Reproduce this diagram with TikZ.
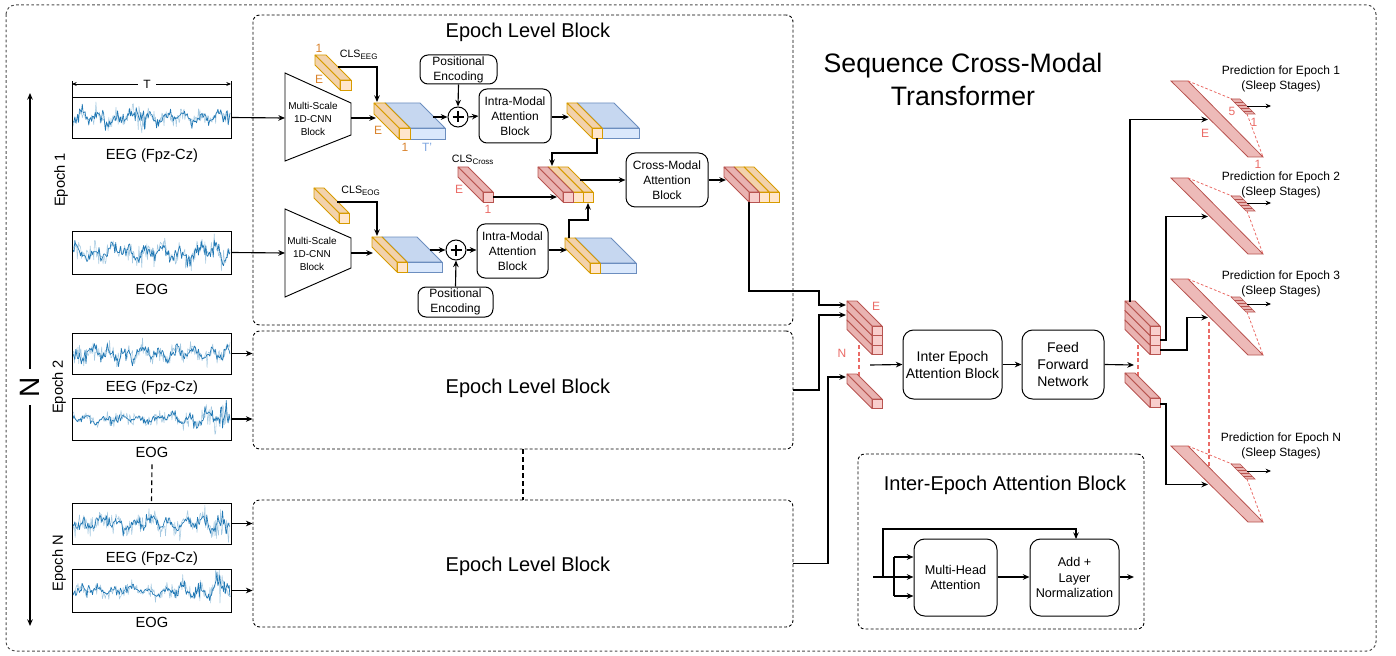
\documentclass[tikz,border=0pt]{standalone}
\usepackage{fontspec}
\setmainfont{Liberation Sans}
\usetikzlibrary{arrows.meta,fit}
\definecolor{orF}{HTML}{FFE6CC}
\definecolor{orT}{HTML}{F2D2AC}
\definecolor{orS}{HTML}{D79B00}
\definecolor{blF}{HTML}{DAE8FC}
\definecolor{blT}{HTML}{C6D7F0}
\definecolor{blS}{HTML}{6C8EBF}
\definecolor{rdF}{HTML}{F8CECC}
\definecolor{rdT}{HTML}{E9B3B1}
\definecolor{rdS}{HTML}{B85450}
\definecolor{orTxt}{HTML}{D9822B}
\definecolor{rdTxt}{HTML}{EA6B66}
\definecolor{blTxt}{HTML}{7EA6E0}
\definecolor{sigC}{HTML}{1F77B4}
% 3D bar: front x, front y, width, height, front fill, side fill, stroke
\newcommand{\tbar}[7]{%
  \filldraw[fill=#6,draw=#7,line width=0.6pt,line join=round] (#1,#2) -- ++(-25,-25) -- ++(#3,0) -- ++(25,25) -- cycle;
  \filldraw[fill=#6,draw=#7,line width=0.6pt,line join=round] (#1,#2) -- ++(-25,-25) -- ++(0,#4) -- ++(25,25) -- cycle;
  \filldraw[fill=#5,draw=#7,line width=0.6pt] (#1,#2) rectangle ++(#3,#4);
}
% signal box: name, top, bottom, seed, amplitude, growth
\newcommand{\sigb}[6]{%
  \begin{scope}
    \clip (72,#2) rectangle (231,#3);
    \pgfmathsetseed{#4}
    \draw[sigC!40,line width=0.4pt,line join=round] plot[domain=1:158,samples=220,variable=\t] ({72+\t},{(#2+#3)/2 + #5*(0.8*rand*rnd + 0.25*sin(\t*21+#4*7) + 0.15*sin(\t*8+#4*13))*(1+#6*(\t/158)^4)});
    \pgfmathsetseed{#4+1}
    \draw[sigC,line width=0.5pt,line join=round] plot[domain=1:158,samples=170,variable=\t] ({72+\t},{(#2+#3)/2 + #5*(0.75*rand*rnd*(0.4+0.6*rnd) + 0.22*sin(\t*21+#4*7) + 0.15*sin(\t*8+#4*13))*(1+#6*(\t/158)^4)});
  \end{scope}
  \node[draw,line width=0.6pt,inner sep=0pt,fit={(72,#2)(231,#3)}] (#1) {};
}
% prediction bar
\newcommand{\pbar}[2]{%
  \filldraw[fill=rdT!75!rdF,draw=rdS,line width=0.6pt] (1171,#1) -- (1188,#1) -- (1263,{#1+76}) -- (1248,{#1+76}) -- cycle;
  \draw[rdTxt,line width=0.6pt,dash pattern=on 2pt off 1.5pt] (1188,#1) -- (1232,{#1+18});
  \draw[rdTxt,line width=0.6pt,dash pattern=on 2pt off 1.5pt] (1247,{#1+33}) -- (1263,{#1+76});
  \filldraw[fill=rdT,draw=rdS,line width=0.5pt] (1231,{#1+18}) -- (1240,{#1+18}) -- (1255,{#1+33}) -- (1246,{#1+33}) -- cycle;
  \foreach \k in {1,2,3,4}{\draw[rdS,line width=0.5pt] ({1231+3*\k},{#1+18+3*\k}) -- ({1240+3*\k},{#1+18+3*\k});}
  \coordinate (#2in) at (1208,{#1+38.5});
  \coordinate (#2out) at (1247,{#1+25});
  \coordinate (#2end) at (1271,{#1+25});
}
\begin{document}
\begin{tikzpicture}[x=0.75pt,y=-0.75pt,
  arr/.style={-{Stealth[length=5pt,width=4.2pt]},line width=0.85pt},
  sarr/.style={-{Stealth[length=4pt,width=3.4pt]},line width=0.7pt},
  rbox/.style={draw,line width=0.75pt,rounded corners=6pt,inner sep=0pt,align=center},
  dblock/.style={draw,line width=0.7pt,dash pattern=on 2.2pt off 1.6pt,rounded corners=5pt,inner sep=0pt},
  outerb/.style={draw=black!70,line width=0.75pt,dash pattern=on 2pt off 1.8pt,rounded corners=7pt},
  t/.style={inner sep=0pt,align=center},
  f20/.style={font=\fontsize{20}{24.75}\selectfont},
  f15/.style={font=\fontsize{15}{18}\selectfont},
  f11/.style={font=\fontsize{11}{13}\selectfont},
  f105/.style={font=\fontsize{10.5}{12.75}\selectfont},
  f95/.style={font=\fontsize{9.5}{11.75}\selectfont},
  f9/.style={font=\fontsize{9}{11.25}\selectfont},
  f8/.style={font=\fontsize{8}{10}\selectfont},
  f75/.style={font=\fontsize{7.5}{9.75}\selectfont},
  rdash/.style={rdTxt,line width=0.8pt,dash pattern=on 3pt off 2pt}]
\useasboundingbox (0,0) rectangle (1396,656);

% outer frame
\draw[outerb] (6,5) rectangle (1376,651);

% ---------- left signals ----------
\sigb{eeg1}{97}{138}{11}{16}{0}
\sigb{eog1}{231}{274}{22}{18}{0.3}
\sigb{eeg2}{333}{374}{33}{17}{0}
\sigb{eog2}{398}{440}{44}{10}{2.6}
\sigb{eegN}{503}{544}{55}{16}{0.5}
\sigb{eogN}{569}{612}{66}{10}{2.6}

\node[t,f11] (leeg1) at (152,156) {EEG (Fpz-Cz)};
\node[t,f11] (leog1) at (152,289) {EOG};
\node[t,f11] (leeg2) at (152,388) {EEG (Fpz-Cz)};
\node[t,f11] (leog2) at (152,452) {EOG};
\node[t,f11] (leegN) at (152,559) {EEG (Fpz-Cz)};
\node[t,f11] (leogN) at (152,622) {EOG};

\node[t,f11,rotate=90] (ep1) at (61,180) {Epoch 1};
\node[t,f11,rotate=90] (ep2) at (59,387) {Epoch 2};
\node[t,f11,rotate=90] (epN) at (59,563) {Epoch N};

% T dimension
\coordinate (tl) at (72,84); \coordinate (tr) at (231,84);
\draw[line width=0.6pt] (72,81) -- (72,97) (231,81) -- (231,97);
\draw[{Stealth[length=3.5pt,width=3pt]}-{Stealth[length=3.5pt,width=3pt]},line width=0.6pt] (tl) -- (tr);
\node[t,f9,fill=white,inner xsep=4pt] (tlab) at (147,84) {T};

% N arrow
\coordinate (ntop) at (30,93); \coordinate (nbot) at (30,626);
\draw[{Stealth[length=5pt,width=4.2pt]}-{Stealth[length=5pt,width=4.2pt]},line width=0.85pt] (ntop) -- (nbot);
\node[t,rotate=90,fill=white,inner xsep=6pt,inner ysep=2pt,font=\fontsize{21}{24}\selectfont] (nlab) at (30,387) {N};

% dashed continuation
\draw[line width=0.85pt,dash pattern=on 3.5pt off 2.5pt] (leog2.south) ++(0,7) coordinate (dc1) -- (eegN.north);

% ---------- epoch level blocks ----------
\node[dblock,fit={(253,15)(793,325)}] (elb1) {};
\node[dblock,fit={(253,331)(793,449)}] (elb2) {};
\node[dblock,fit={(253,500)(793,627)}] (elbN) {};
\node[t,f15] (elbt1) at (528,32) {Epoch Level Block};
\node[t,f15] (elbt2) at (528,388) {Epoch Level Block};
\node[t,f15] (elbt3) at (528,566) {Epoch Level Block};
\draw[line width=0.85pt,dash pattern=on 3.5pt off 2.5pt] (elb2.south) -- (elbN.north);

\draw[arr] (eeg2.east) -- (eeg2.east -| elb2.west);
\draw[arr] (eog2.east) -- (eog2.east -| elb2.west);
\draw[arr] (eegN.east) -- (eegN.east -| elbN.west);
\draw[arr] (eogN.east) -- (eogN.east -| elbN.west);

% CNN trapezoids
\draw[line width=0.7pt] (285,73) -- (351,103) -- (351,135) -- (285,161) -- cycle;
\node[t,f75] (cnn1) at (313,119) {Multi-Scale\\1D-CNN\\Block};
\draw[line width=0.7pt] (285,209) -- (351,238) -- (351,268) -- (285,297) -- cycle;
\node[t,f75] (cnn2) at (312,254) {Multi-Scale\\1D-CNN\\Block};
\draw[arr] (eeg1.east) -- (285,118);
\draw[arr] (eog1.east) -- (285,253);

% CLS EEG
\tbar{340}{80}{11}{10}{orF}{orT}{orS}
\node[t,f9,text=orTxt] (c1one) at (319,48) {1};
\node[t,f9,text=orTxt] (c1e) at (319,79) {E};
\node[t,f8] (clseeg) at (359,55) {CLS\textsubscript{EEG}};
% EEG input tensor
\tbar{410}{128}{35}{11}{blF}{blT}{blS}
\tbar{399}{128}{11}{11}{orF}{orT}{orS}
\node[t,f9,text=orTxt] (te) at (378,130) {E};
\node[t,f9,text=orTxt] (tone) at (405,147) {1};
\node[t,f9,text=blTxt] (tT) at (427,147) {T'};
\draw[arr] (351,118) -- (376,118);
\draw[arr] (338,67) -- (377,67) -- (377,102);

% positional encodings and plus
\node[rbox,f9,fit={(420,55)(497,84)}] (pe1) {};
\node[t,f9] at (pe1) {Positional\\Encoding};
\node[circle,draw,line width=0.75pt,minimum size=15pt,inner sep=0pt] (p1) at (458,117) {};
\draw[line width=0.9pt] (452.5,117) -- (463.5,117) (458,111.5) -- (458,122.5);
\draw[arr] (433,117) -- (p1.west);
\draw[arr] (pe1.south) -- (p1.north);

\node[rbox,fit={(479,89)(551,143)}] (intra1) {};
\node[t,f9] at (intra1) {Intra-Modal\\Attention\\Block};
\draw[arr] (p1.east) -- (intra1.west);

% EEG output tensor
\tbar{602}{128}{37}{10}{blF}{blT}{blS}
\tbar{592}{128}{10}{10}{orF}{orT}{orS}
\draw[arr] (intra1.east |- 0,117) -- (569,117);

% CLS EOG
\tbar{339}{213}{10}{10}{orF}{orT}{orS}
\node[t,f8] (clseog) at (361,191) {CLS\textsubscript{EOG}};
\tbar{407}{262}{35}{10}{blF}{blT}{blS}
\tbar{397}{262}{10}{10}{orF}{orT}{orS}
\draw[arr] (351,253) -- (373,253);
\draw[arr] (337,202) -- (377,202) -- (377,236);

\node[circle,draw,line width=0.75pt,minimum size=15pt,inner sep=0pt] (p2) at (456,250) {};
\draw[line width=0.9pt] (450.5,250) -- (461.5,250) (456,244.5) -- (456,255.5);
\node[rbox,fit={(418,287)(493,317)}] (pe2) {};
\node[t,f9] at (pe2) {Positional\\Encoding};
\draw[arr] (430,250) -- (p2.west);
\draw[arr] (pe2.north) -- (p2.south);
\node[rbox,fit={(477,224)(548,278)}] (intra2) {};
\node[t,f9] at (intra2) {Intra-Modal\\Attention\\Block};
\draw[arr] (p2.east) -- (intra2.west |- 0,250);
\tbar{600}{263}{36}{10}{blF}{blT}{blS}
\tbar{590}{263}{10}{10}{orF}{orT}{orS}
\draw[arr] (intra2.east |- 0,250) -- (567,250);

% CLS cross
\tbar{483}{192}{10}{10}{rdF}{rdT}{rdS}
\node[t,f8] (clscross) at (473,160) {CLS\textsubscript{Cross}};
\node[t,f9,text=rdTxt] (cce) at (459,189) {E};
\node[t,f9,text=rdTxt] (ccone) at (488,209) {1};

% cross tensor
\tbar{583}{192}{10}{10}{orF}{orT}{orS}
\tbar{573}{192}{10}{10}{orF}{orT}{orS}
\tbar{563}{192}{10}{10}{rdF}{rdT}{rdS}
\draw[arr] (597,138) -- (597,153) -- (552,153) -- (552,166);
\draw[arr] (493,197) -- (557,197);
\draw[arr] (569,238) -- (569,220) -- (588,220) -- (588,203);

\node[rbox,rounded corners=7pt,fit={(626,153)(708,207)}] (cm) {};
\node[t,f9] at (cm) {Cross-Modal\\Attention\\Block};
\draw[arr] (580,180) -- (cm.west);

% cross output tensor
\tbar{769}{192}{10}{10}{orF}{orT}{orS}
\tbar{759}{192}{10}{10}{orF}{orT}{orS}
\tbar{749}{192}{10}{10}{rdF}{rdT}{rdS}
\draw[arr] (cm.east) -- (726,180);

% ---------- sequence stack ----------
\draw[rdash] (859,345) -- (859,382);
\tbar{872}{345}{10}{9.5}{rdF}{rdT}{rdS}
\tbar{872}{335.5}{10}{9.5}{rdF}{rdT}{rdS}
\tbar{872}{326}{10}{9.5}{rdF}{rdT}{rdS}
\tbar{872}{399}{10}{9.5}{rdF}{rdT}{rdS}
\node[t,f9,text=rdTxt] (se) at (876,306) {E};
\node[t,f9,text=rdTxt] (sn) at (842,353) {N};

\draw[arr] (749,202) -- (749,291) -- (819,291) -- (819,305) -- (846,305);
\draw[arr] (elb2.east) -- (819,390) -- (819,315) -- (846,315);
\draw[arr] (elbN.east) -- (828,563.5) -- (828,377) -- (846,377);

\node[rbox,rounded corners=8pt,fit={(903,330)(1002,399)}] (iea) {};
\node[t,f105] at (iea) {Inter Epoch\\Attention Block};
\node[rbox,rounded corners=8pt,fit={(1022,330)(1104,399)}] (ffn) {};
\node[t,f105] at (ffn) {Feed\\Forward\\Network};
\draw[arr] (870,365) -- (iea.west);
\draw[arr] (iea.east) -- (ffn.west);
\draw[arr] (ffn.east) -- (1134,365);

% right stack
\draw[rdash] (1138,345) -- (1138,380);
\tbar{1150}{345}{10}{9.5}{rdF}{rdT}{rdS}
\tbar{1150}{335.5}{10}{9.5}{rdF}{rdT}{rdS}
\tbar{1150}{326}{10}{9.5}{rdF}{rdT}{rdS}
\tbar{1150}{398}{10}{9.5}{rdF}{rdT}{rdS}

% ---------- predictions ----------
\draw[rdash] (1209,322) -- (1209,467);
\pbar{81}{pa}
\pbar{178}{pb}
\pbar{279}{pc}
\pbar{446}{pn}
\node[t,f9,text=rdTxt] (p5) at (1232,111) {5};
\node[t,f9,text=rdTxt] (p1a) at (1254,122) {1};
\node[t,f9,text=rdTxt] (pE) at (1205,133) {E};
\node[t,f9,text=rdTxt] (p1b) at (1258,164) {1};
\foreach \p in {pa,pb,pc,pn}{\draw[sarr] (\p out) -- (\p end);}

\node[t,f9] (pra) at (1281,78.5) {Prediction for Epoch 1\\(Sleep Stages)};
\node[t,f9] (prb) at (1281,184.5) {Prediction for Epoch 2\\(Sleep Stages)};
\node[t,f9] (prc) at (1281,283.5) {Prediction for Epoch 3\\(Sleep Stages)};
\node[t,f9] (prn) at (1281,445.5) {Prediction for Epoch N\\(Sleep Stages)};

\draw[arr] (1130,302) -- (1130,119.5) -- (pain);
\draw[arr] (1160,340) -- (1166,340) -- (1166,216.5) -- (pbin);
\draw[arr] (1160,350) -- (1187,350) -- (1187,317.5) -- (pcin);
\draw[arr] (1160,404) -- (1166,404) -- (1166,484.5) -- (pnin);

% title
\node[t,f20] (title) at (963,79.5) {Sequence Cross-Modal\\Transformer};

% ---------- inter-epoch attention detail ----------
\node[dblock,fit={(858,454)(1144,629)}] (ieab) {};
\node[t,f15] (ieabt) at (1005,485) {Inter-Epoch Attention Block};
\node[rbox,rounded corners=8pt,fit={(914,539)(997,616)}] (mha) {};
\node[t,f95] at (mha) {Multi-Head\\Attention};
\node[rbox,rounded corners=8pt,fit={(1030,539)(1119,616)}] (addn) {};
\node[t,f95] at (addn) {Add +\\Layer\\Normalization};
\coordinate (in0) at (873,577);
\coordinate (out0) at (1134,577);
\draw[arr] (in0) -- (mha.west |- in0);
\draw[line width=0.85pt] (894,557) -- (894,596);
\draw[arr] (894,557) -- (mha.west |- 0,557);
\draw[arr] (894,596) -- (mha.west |- 0,596);
\draw[arr] (883,577) -- (883,529) -- (1076,529) -- (1076,539);
\draw[arr] (mha.east |- in0) -- (addn.west |- in0);
\draw[arr] (addn.east |- in0) -- (out0);
\end{tikzpicture}
\end{document}
